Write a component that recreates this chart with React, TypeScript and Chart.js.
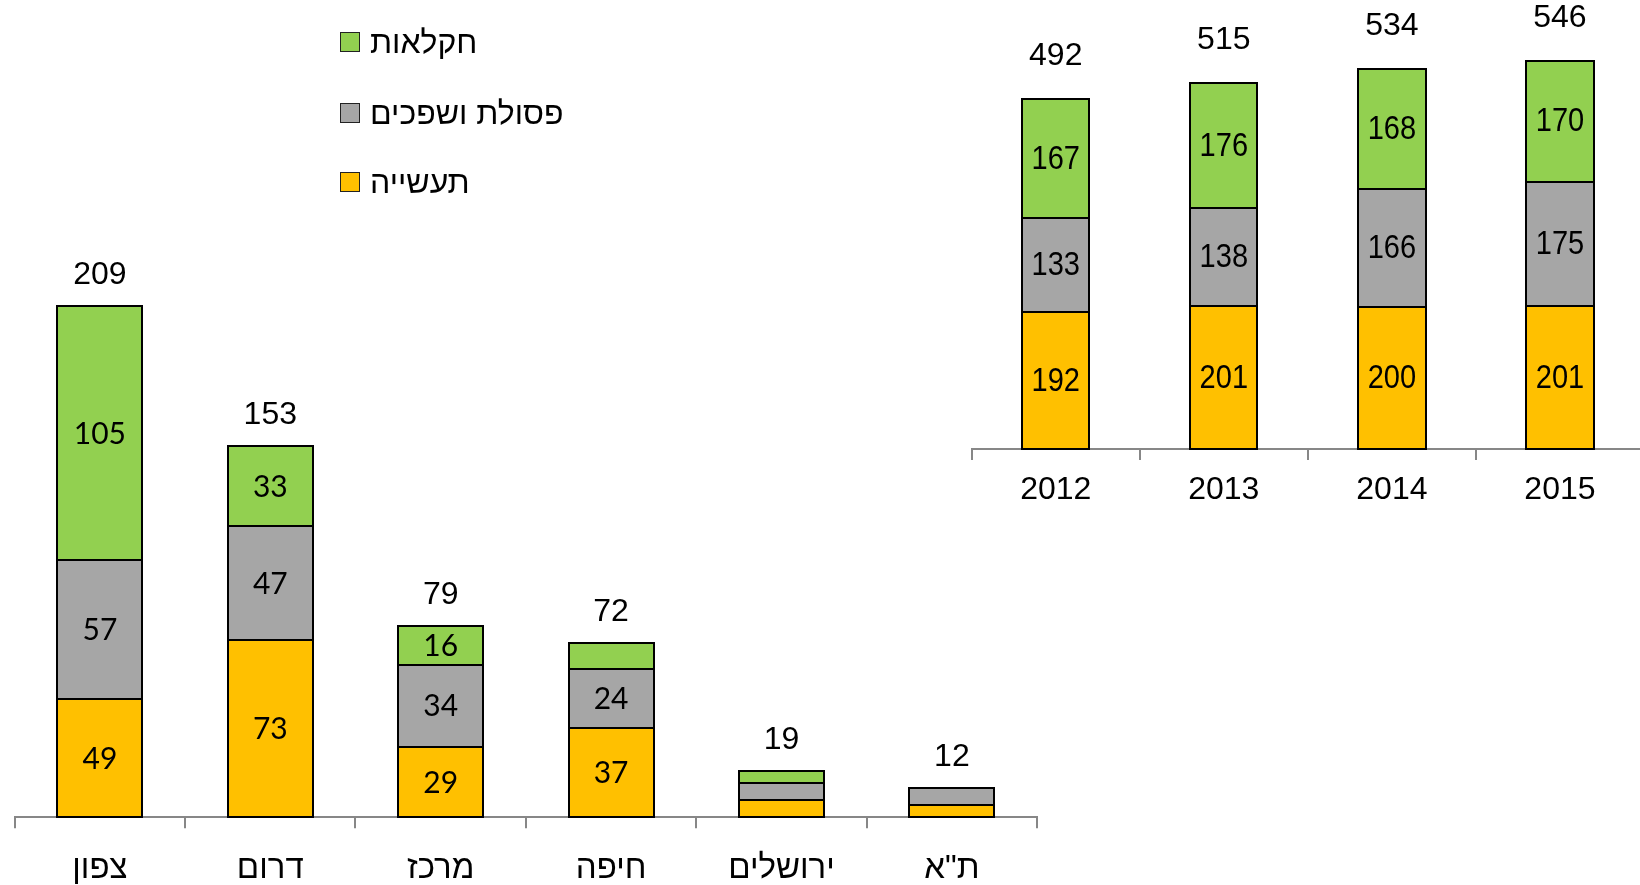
import React, { useEffect, useRef } from "react";
import { Chart, registerables } from "chart.js";

Chart.register(...registerables);

// ---- Data ----
const regions = ["צפון", "דרום", "מרכז", "חיפה", "ירושלים", 'ת"א'];
const regionIndustry = [49, 73, 29, 37, 7, 5];
const regionWaste = [57, 47, 34, 24, 7, 7];
const regionAgri = [105, 33, 16, 11, 5, 0];
const regionTotals = [209, 153, 79, 72, 19, 12];

const years = ["2012", "2013", "2014", "2015"];
const yearIndustry = [192, 201, 200, 201];
const yearWaste = [133, 138, 166, 175];
const yearAgri = [167, 176, 168, 170];
const yearTotals = [492, 515, 534, 546];

const seriesNames = ["תעשייה", "פסולת ושפכים", "חקלאות"];
const seriesColors = ["#FFC000", "#A6A6A6", "#92D050"];

const ARIAL = "'Liberation Sans', Arial, sans-serif";

const stackLabels = {
  id: "stackLabels",
  afterDatasetsDraw(chart: any, _args: any, opts: any) {
    const ctx = chart.ctx;
    ctx.save();
    // crisp shared outlines around each segment
    ctx.strokeStyle = "#000";
    ctx.lineWidth = 2;
    chart.data.datasets.forEach((ds: any, di: number) => {
      const meta = chart.getDatasetMeta(di);
      meta.data.forEach((el: any, i: number) => {
        if (!(ds.data[i] > 0)) return;
        const l = Math.round(el.x - el.width / 2);
        const r = Math.round(el.x + el.width / 2);
        const t = Math.round(el.y);
        const b = Math.round(el.base);
        ctx.strokeRect(l, t, r - l, b - t);
      });
    });

    ctx.textAlign = "center";
    ctx.textBaseline = "middle";
    ctx.fillStyle = "#000";
    ctx.font = opts.innerFont;
    const sx = opts.innerScaleX || 1;
    const tops: number[] = [];
    chart.data.datasets.forEach((ds: any, di: number) => {
      const meta = chart.getDatasetMeta(di);
      meta.data.forEach((el: any, i: number) => {
        const v = ds.data[i];
        if (v > 0) {
          tops[i] = tops[i] === undefined ? el.y : Math.min(tops[i], el.y);
        }
        if (v >= opts.minValue) {
          ctx.save();
          ctx.translate(el.x, (el.y + el.base) / 2 + 1);
          ctx.scale(sx, 1);
          ctx.fillText(String(v), 0, 0);
          ctx.restore();
        }
      });
    });
    ctx.font = opts.totalFont;
    const xs = chart.scales.x;
    (opts.totals as number[]).forEach((t, i) => {
      ctx.fillText(String(t), xs.getPixelForValue(i), tops[i] - opts.totalOffset);
    });
    ctx.restore();
  },
};

function makeDatasets(values: number[][]) {
  return values.map((data, i) => ({
    label: seriesNames[i],
    data,
    backgroundColor: seriesColors[i],
    borderWidth: 0,
    inflateAmount: 0,
  }));
}

function xScale(labelPadding: number, axisHeight: number, fontSize: number) {
  return {
    stacked: true,
    offset: true,
    z: 1,
    grid: {
      offset: true,
      drawOnChartArea: false,
      drawTicks: true,
      tickLength: 11,
      color: "#878787",
      lineWidth: 2,
    },
    border: { display: true, color: "#878787", width: 2 },
    ticks: {
      color: "#000",
      font: { family: ARIAL, size: fontSize },
      padding: labelPadding,
      maxRotation: 0,
      autoSkip: false,
    },
    afterFit: (s: any) => {
      s.height = axisHeight;
    },
  };
}

function RegionChart() {
  const ref = useRef<HTMLCanvasElement>(null);
  useEffect(() => {
    const chart = new Chart(ref.current!, {
      type: "bar",
      data: {
        labels: regions,
        datasets: makeDatasets([regionIndustry, regionWaste, regionAgri]),
      },
      options: {
        animation: false,
        responsive: false,
        maintainAspectRatio: false,
        layout: { padding: { left: 14.7, right: 7.9, top: 17.3, bottom: 0 } },
        datasets: { bar: { categoryPercentage: 1, barPercentage: 0.5 } },
        plugins: {
          legend: { display: false },
          tooltip: { enabled: false },
          stackLabels: {
            innerFont: "30px Lato, 'Noto Sans', sans-serif",
            totalFont: `32px ${ARIAL}`,
            minValue: 15,
            totals: regionTotals,
            totalOffset: 31,
          },
        } as any,
        scales: {
          x: xScale(21, 67.7, 33) as any,
          y: { stacked: true, display: false, min: 0, max: 330 },
        },
      },
      plugins: [stackLabels],
    });
    return () => chart.destroy();
  }, []);
  return (
    <canvas
      ref={ref}
      width={1045}
      height={885}
      style={{ position: "absolute", left: 0, top: 0, width: 1045, height: 885 }}
    />
  );
}

function YearChart() {
  const ref = useRef<HTMLCanvasElement>(null);
  useEffect(() => {
    const chart = new Chart(ref.current!, {
      type: "bar",
      data: {
        labels: years,
        datasets: makeDatasets([yearIndustry, yearWaste, yearAgri]),
      },
      options: {
        animation: false,
        responsive: false,
        maintainAspectRatio: false,
        layout: { padding: { left: 11.7, right: 6, top: 8.2, bottom: 0 } },
        datasets: { bar: { categoryPercentage: 1, barPercentage: 0.4 } },
        plugins: {
          legend: { display: false },
          tooltip: { enabled: false },
          stackLabels: {
            innerFont: `33px ${ARIAL}`,
            innerScaleX: 0.88,
            totalFont: `32px ${ARIAL}`,
            minValue: 0,
            totals: yearTotals,
            totalOffset: 43,
          },
        } as any,
        scales: {
          x: xScale(11, 71, 32) as any,
          y: { stacked: true, display: false, min: 0, max: 620 },
        },
      },
      plugins: [stackLabels],
    });
    return () => chart.destroy();
  }, []);
  return (
    <canvas
      ref={ref}
      width={690}
      height={520}
      style={{ position: "absolute", left: 960, top: 0, width: 690, height: 520 }}
    />
  );
}

const legendTops = [31.7, 103, 172];

function Legend() {
  const order = [2, 1, 0];
  return (
    <>
      {order.map((si, row) => (
        <React.Fragment key={si}>
          <div
            style={{
              position: "absolute",
              left: 340,
              top: legendTops[row],
              width: 20,
              height: 20,
              boxSizing: "border-box",
              background: seriesColors[si],
              border: "1.5px solid #222",
            }}
          />
          <div
            style={{
              position: "absolute",
              left: 370,
              top: legendTops[row] - 6,
              fontFamily: ARIAL,
              fontSize: 32,
              lineHeight: "32px",
              color: "#000",
              whiteSpace: "nowrap",
            }}
          >
            {seriesNames[si]}
          </div>
        </React.Fragment>
      ))}
    </>
  );
}

export default function App() {
  return (
    <div
      style={{
        position: "fixed",
        left: 0,
        top: 0,
        width: 1640,
        height: 885,
        overflow: "hidden",
        background: "#fff",
      }}
    >
      <RegionChart />
      <YearChart />
      <Legend />
    </div>
  );
}
